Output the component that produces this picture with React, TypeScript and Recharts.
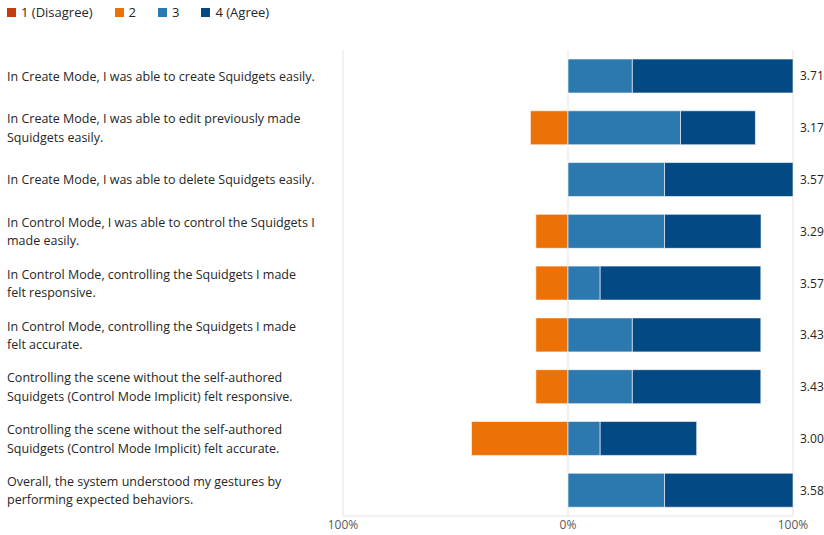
import React from 'react'
import { BarChart, Bar, XAxis, YAxis, CartesianGrid } from 'recharts'

const statements = [
  'In Create Mode, I was able to create Squidgets easily.',
  'In Create Mode, I was able to edit previously made\nSquidgets easily.',
  'In Create Mode, I was able to delete Squidgets easily.',
  'In Control Mode, I was able to control the Squidgets I\nmade easily.',
  'In Control Mode, controlling the Squidgets I made\nfelt responsive.',
  'In Control Mode, controlling the Squidgets I made\nfelt accurate.',
  'Controlling the scene without the self-authored\nSquidgets (Control Mode Implicit) felt responsive.',
  'Controlling the scene without the self-authored\nSquidgets (Control Mode Implicit) felt accurate.',
  'Overall, the system understood my gestures by\nperforming expected behaviors.',
]

// share of answers per level, in percent
const disagree = [0, 0, 0, 0, 0, 0, 0, 0, 0]
const level2 = [0, 16.7, 0, 14.3, 14.3, 14.3, 14.3, 42.9, 0]
const level3 = [28.6, 50, 42.9, 42.9, 14.3, 28.6, 28.6, 14.3, 42.9]
const agree = [71.4, 33.3, 57.1, 42.9, 71.4, 57.1, 57.1, 42.9, 57.1]
const means = ['3.71', '3.17', '3.57', '3.29', '3.57', '3.43', '3.43', '3.00', '3.58']

const legendItems = [
  { name: '1 (Disagree)', color: '#C23D0C' },
  { name: '2', color: '#EC7207' },
  { name: '3', color: '#2C79B0' },
  { name: '4 (Agree)', color: '#034A84' },
]

const data = statements.map((label, i) => ({
  label,
  mean: means[i],
  l1: -disagree[i],
  l2: -level2[i],
  l3: level3[i],
  l4: agree[i],
}))

const FONT = '"Segoe UI", "Open Sans", sans-serif'

function LeftTick(props: any) {
  const { y, payload } = props
  const lines = String(payload.value).split('\n')
  const lh = 18.5
  const y0 = y - ((lines.length - 1) * lh) / 2
  return (
    <text x={7} y={y0} fill="#262626" fontSize={12.5} fontFamily={FONT} textAnchor="start" dominantBaseline="central">
      {lines.map((l, i) => (
        <tspan key={i} x={7} y={y0 + i * lh}>{l}</tspan>
      ))}
    </text>
  )
}

function RightTick(props: any) {
  const { x, y, payload } = props
  return (
    <text x={x - 1} y={y} fill="#262626" fontSize={12} fontFamily={FONT} textAnchor="start" dominantBaseline="central">
      {payload.value}
    </text>
  )
}

export default function App() {
  return (
    <div style={{ position: 'absolute', left: 0, top: 0, width: 824, height: 535, background: '#fff', fontFamily: FONT }}>
      <div style={{ position: 'absolute', left: 7, top: 3, display: 'flex', fontSize: 13, color: '#262626' }}>
        {legendItems.map((it) => (
          <div key={it.name} style={{ display: 'flex', alignItems: 'center', marginRight: 22 }}>
            <span style={{ width: 9, height: 9, background: it.color, display: 'inline-block', marginRight: 5 }} />
            <span>{it.name}</span>
          </div>
        ))}
      </div>
      <BarChart
        width={824}
        height={535}
        data={data}
        layout="vertical"
        stackOffset="sign"
        barSize={34}
        margin={{ top: 50, right: 0, bottom: 0, left: 0 }}
      >
        <CartesianGrid horizontal={false} stroke="#e3e3e3" />
        <XAxis
          type="number"
          domain={[-100, 100]}
          ticks={[-100, 0, 100]}
          tickFormatter={(v: number) => `${Math.abs(v)}%`}
          axisLine={{ stroke: '#e3e3e3' }}
          tickLine={false}
          height={19}
          tickSize={0}
          tickMargin={4}
          tick={{ fill: '#595959', fontSize: 12, fontFamily: FONT }}
        />
        <YAxis
          yAxisId="left"
          type="category"
          dataKey="label"
          width={343}
          axisLine={false}
          tickLine={false}
          tick={<LeftTick />}
          interval={0}
        />
        <YAxis
          yAxisId="right"
          orientation="right"
          type="category"
          dataKey="mean"
          width={31}
          axisLine={false}
          tickLine={false}
          tick={<RightTick />}
          interval={0}
        />
        <Bar yAxisId="left" dataKey="l2" stackId="s" fill="#EC7207" stroke="#fff" strokeWidth={0.6} isAnimationActive={false} />
        <Bar yAxisId="left" dataKey="l1" stackId="s" fill="#C23D0C" stroke="#fff" strokeWidth={0.6} isAnimationActive={false} />
        <Bar yAxisId="left" dataKey="l3" stackId="s" fill="#2C79B0" stroke="#fff" strokeWidth={0.6} isAnimationActive={false} />
        <Bar yAxisId="left" dataKey="l4" stackId="s" fill="#034A84" stroke="#fff" strokeWidth={0.6} isAnimationActive={false} />
      </BarChart>
    </div>
  )
}
